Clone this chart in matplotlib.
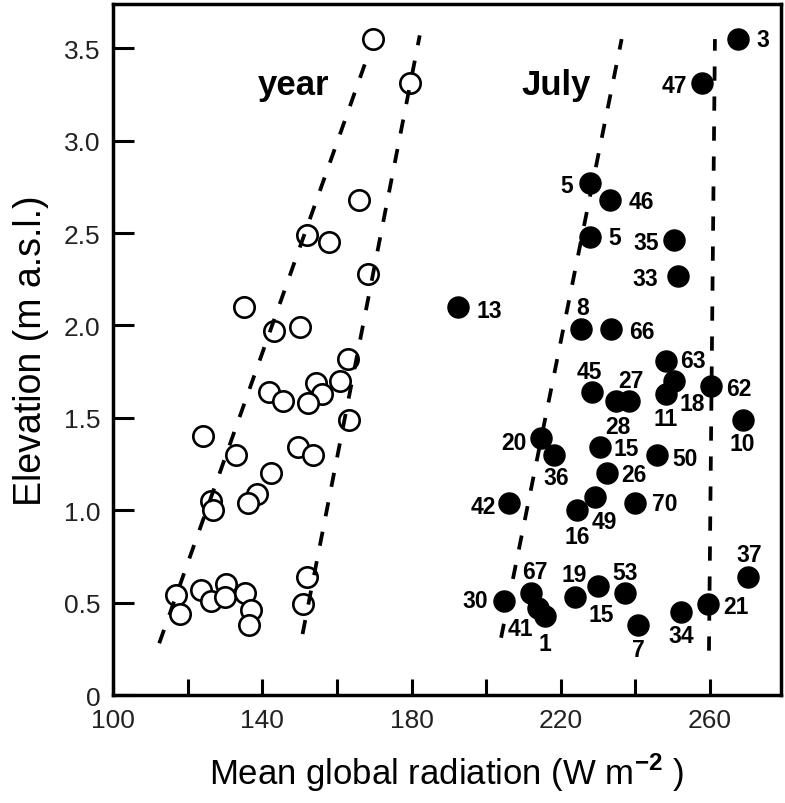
import matplotlib
matplotlib.use("Agg")
import matplotlib.pyplot as plt

plt.rcParams['font.family'] = ['Liberation Sans', 'DejaVu Sans']
plt.rcParams['mathtext.fontset'] = 'custom'
plt.rcParams['mathtext.rm'] = 'Liberation Sans'
plt.rcParams['mathtext.bf'] = 'Liberation Sans:bold'

# annual means (open circles)
year_x = [169.7, 179.7, 166.0, 152.0, 157.9, 168.3, 135.1, 143.2, 150.1, 163.0,
          160.8, 154.3, 156.1, 152.3, 141.8, 145.6, 163.3, 124.2, 133.1, 149.6,
          153.6, 142.3, 138.6, 136.1, 126.2, 126.7, 116.9, 117.9, 123.7, 126.2,
          130.4, 130.0, 135.3, 137.1, 136.4, 152.0, 150.9]
year_y = [3.55, 3.31, 2.68, 2.49, 2.45, 2.28, 2.10, 1.97, 1.99, 1.82,
          1.70, 1.69, 1.63, 1.58, 1.64, 1.59, 1.49, 1.40, 1.30, 1.34,
          1.30, 1.20, 1.09, 1.04, 1.05, 1.00, 0.54, 0.44, 0.57, 0.51,
          0.60, 0.53, 0.55, 0.46, 0.38, 0.64, 0.49]

# July means (filled dots) with site numbers
july_lab = ['3', '47', '5', '46', '5', '35', '33', '13', '8', '66',
            '63', '18', '11', '62', '10', '45', '27', '28', '20', '36',
            '15', '50', '26', '49', '16', '70', '42', '37', '21', '34',
            '7', '53', '15', '19', '67', '41', '1', '30']
july_x = [267.6, 257.8, 227.9, 233.2, 227.9, 250.4, 251.3, 192.4, 225.4, 233.5,
          248.2, 250.4, 248.2, 260.2, 268.7, 228.3, 238.4, 234.8, 214.6, 218.3,
          230.4, 245.8, 232.4, 229.2, 224.3, 240.0, 206.1, 270.1, 259.5, 252.2,
          240.8, 237.2, 230.1, 223.9, 212.0, 213.9, 215.8, 204.9]
july_y = [3.55, 3.31, 2.77, 2.68, 2.48, 2.46, 2.27, 2.10, 1.98, 1.98,
          1.81, 1.70, 1.63, 1.67, 1.49, 1.64, 1.59, 1.59, 1.39, 1.30,
          1.34, 1.30, 1.20, 1.07, 1.00, 1.04, 1.04, 0.64, 0.49, 0.45,
          0.38, 0.55, 0.59, 0.53, 0.55, 0.47, 0.43, 0.51]

# envelope lines (x0, x1), (y0, y1)
env_year_left = ([112.4, 169.0], [0.28, 3.50])
env_year_right = ([150.8, 182.2], [0.33, 3.57])
env_july_left = ([204.0, 236.3], [0.31, 3.55])
env_july_right = ([259.7, 261.3], [0.24, 3.55])

yticks = [0, 0.5, 1.0, 1.5, 2.0, 2.5, 3.0, 3.5]
ytick_labels = ['0', '0.5', '1.0', '1.5', '2.0', '2.5', '3.0', '3.5']
xticks = [100, 120, 140, 160, 180, 200, 220, 240, 260]
xtick_labels = ['100', '', '140', '', '180', '', '220', '', '260']

# label placement around each dot, in pixels (right, down)
lab_off = [(24, 0), (-28, 2), (-24, 2), (31, 2), (24, 1), (-28, 2), (-32, 3), (32, 3), (2, -22), (31, 2),
           (27, 0), (18, 23), (0, 25), (28, 2), (0, 24), (-2, -21), (1, -21), (2, 25), (-27, 4), (2, 23),
           (27, 1), (28, 4), (27, 1), (9, 24), (0, 26), (29, 1), (-26, 4), (1, -22), (28, 2), (0, 24),
           (0, 25), (0, -21), (3, 28), (-1, -23), (4, -22), (-18, 20), (0, 28), (-29, 0)]

fig = plt.figure(figsize=(7.85, 8.04), dpi=100)
ax = fig.add_axes([0.1439, 0.1343, 0.8510, 0.8595])

for xs, ys in [env_year_left, env_year_right, env_july_left, env_july_right]:
    ax.plot(xs, ys, color='black', lw=2.7, dashes=(3.8, 4.2), zorder=3)

ax.scatter(year_x, year_y, s=215, facecolor='white', edgecolor='black', linewidth=1.9, zorder=2)
ax.scatter(july_x, july_y, s=230, color='black', zorder=2)

for x, y, t, (dx, dy) in zip(july_x, july_y, july_lab, lab_off):
    ax.annotate(t, (x, y), xytext=(dx, -dy), textcoords='offset pixels',
                ha='center', va='center', fontsize=16.5, fontweight='bold')

ax.text(138.8, 3.255, 'year', fontsize=25, fontweight='bold', ha='left', va='baseline')
ax.text(209.4, 3.255, 'July', fontsize=25, fontweight='bold', ha='left', va='baseline')

ax.set_xlim(100, 279)
ax.set_ylim(0, 3.74)
ax.set_xticks(xticks)
ax.set_xticklabels(xtick_labels)
ax.set_yticks(yticks)
ax.set_yticklabels(ytick_labels)
ax.tick_params(axis='y', direction='in', length=15, width=2.2, labelsize=19, pad=9, colors='black', labelcolor='#222222')
ax.tick_params(axis='x', direction='in', length=11.5, width=2.2, labelsize=19, pad=9, labelcolor='#222222')
for sp in ax.spines.values():
    sp.set_linewidth(2.5)

ax.set_xlabel('Mean global radiation (W m$^{\\mathbf{-2}}$ )', fontsize=25, labelpad=14)
ax.set_ylabel('Elevation (m a.s.l.)', fontsize=27, labelpad=11)

fig.savefig('out.png', dpi=100)
